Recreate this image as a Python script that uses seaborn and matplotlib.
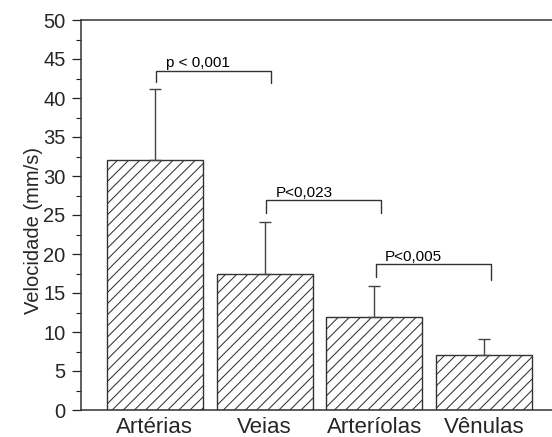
import numpy as np
import pandas as pd
import matplotlib
matplotlib.use("Agg")
import matplotlib.pyplot as plt
import seaborn as sns
from matplotlib.ticker import MultipleLocator

categories = ["Artérias", "Veias", "Arteríolas", "Vênulas"]
velocity = [32.0, 17.5, 11.9, 7.1]
sd_upper = [9.2, 6.6, 4.0, 2.0]

# significance brackets
br_left = [0, 1, 2]
br_right = [1, 2, 3]
br_height = [43.5, 26.9, 18.7]
br_left_bottom = [42.0, 25.2, 17.1]
br_right_bottom = [41.9, 25.3, 16.7]
br_labels = ["p < 0,001", "P<0,023", "P<0,005"]

DPI = 100
sns.set_theme(style="ticks")
plt.rcParams["font.family"] = ["Liberation Sans", "DejaVu Sans"]
plt.rcParams["hatch.linewidth"] = 0.75
plt.rcParams["hatch.color"] = "#222222"

fig = plt.figure(figsize=(552 / DPI, 437 / DPI), dpi=DPI)
ax = fig.add_axes([81 / 552, 1 - 410 / 437, 1 - 81 / 552, 390 / 437])

df = pd.DataFrame({"cat": categories, "vel": velocity})
sns.barplot(data=df, x="cat", y="vel", ax=ax, color="white", width=0.875,
            edgecolor="#333333", linewidth=1.0, errorbar=None)
for p in ax.patches:
    p.set_hatch("///")
    p.set_facecolor("white")

x = np.arange(len(categories))
ax.errorbar(x, velocity, yerr=[np.zeros(len(sd_upper)), sd_upper], fmt="none",
            ecolor="#444444", elinewidth=1.0, capsize=4, capthick=1.0)

for l, r, h, lb, rb, lab in zip(br_left, br_right, br_height, br_left_bottom, br_right_bottom, br_labels):
    xl = x[l] + 0.015
    xr = x[r] + 0.06
    ax.plot([xl, xl, xr, xr], [lb, h, h, rb], color="#333333", lw=1.0)
    ax.text(xl + 0.085, h + 0.45, lab, fontsize=11, va="baseline", ha="left", color="black")

ax.set_xlim(-0.673, 3.62)
ax.set_ylim(0, 50)
ax.yaxis.set_major_locator(MultipleLocator(5))
ax.yaxis.set_minor_locator(MultipleLocator(2.5))
ax.tick_params(axis="y", which="major", length=6.5, width=0.9, labelsize=14.5, direction="out", pad=4.5, color="#222222")
ax.tick_params(axis="y", which="minor", length=3.6, width=0.8, direction="out", color="#222222")
ax.tick_params(axis="x", length=0, labelsize=16, pad=5)
ax.set_xlabel("")
ax.set_ylabel("Velocidade (mm/s)", fontsize=14.5, va="center")
ax.yaxis.set_label_coords(-0.1, 0.459)

for s in ["left", "bottom", "top"]:
    ax.spines[s].set_visible(True)
    ax.spines[s].set_color("#333333")
    ax.spines[s].set_linewidth(1.1)
ax.spines["right"].set_visible(False)

fig.savefig("out.png", dpi=DPI)
